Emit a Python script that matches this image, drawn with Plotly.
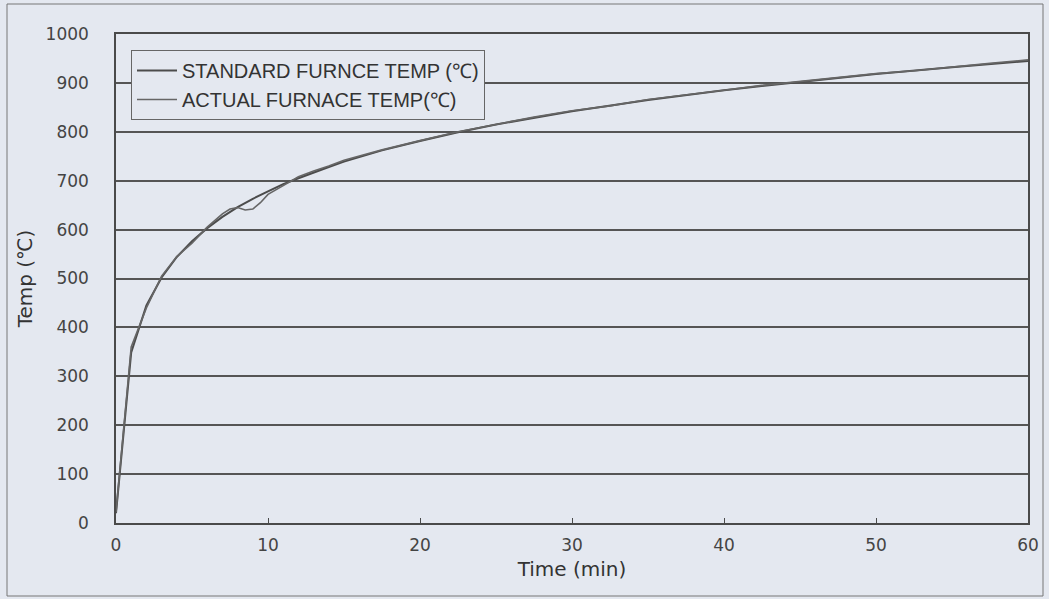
import plotly.graph_objects as go

# Standard furnace temperature (ISO-834-like curve)
std_time = [0, 1, 2, 3, 4, 5, 6, 7, 8, 9, 10, 11, 12, 13, 14, 15,
            17.5, 20, 22.5, 25, 27.5, 30, 35, 40, 45, 50, 55, 60]
std_temp = [20, 349, 445, 502, 544, 576, 603, 626, 646, 663, 678, 693, 705, 717, 728, 739,
            762, 781, 799, 815, 829, 842, 865, 885, 902, 918, 932, 945]

# Actual furnace temperature
act_time = [0, 1, 2, 3, 4, 5, 6, 7, 7.5, 8, 8.5, 9, 9.5, 10, 11, 12, 13, 14, 15,
            17.5, 20, 22.5, 25, 27.5, 30, 32.5, 35, 37.5, 40, 42.5, 45, 47.5,
            50, 52.5, 55, 57.5, 60]
act_temp = [22, 360, 440, 505, 545, 572, 605, 632, 642, 645, 640, 642, 655, 672, 690, 708, 720, 730, 742,
            763, 782, 800, 815, 830, 843, 853, 866, 875, 885, 895, 903, 910,
            919, 925, 933, 940, 947]

series_names = ["STANDARD FURNCE TEMP (℃)", "ACTUAL FURNACE TEMP(℃)"]
y_ticks = [0, 100, 200, 300, 400, 500, 600, 700, 800, 900, 1000]
x_ticks = [0, 10, 20, 30, 40, 50, 60]

BG = "#e4e8f0"
INK = "#4a4a4a"
FONT = "DejaVu Sans"

L, R, T, B = 116, 21, 34, 76
W, H = 1049, 599
PW, PH = W - L - R, H - T - B

def px2paper_x(px):
    return (px - L) / PW

def py2paper_y(py):
    return (H - B - py) / PH

fig = go.Figure()
fig.add_trace(go.Scatter(x=std_time, y=std_temp, mode="lines", name=series_names[0],
                         line=dict(color="#4c4c4c", width=2)))
fig.add_trace(go.Scatter(x=act_time, y=act_temp, mode="lines", name=series_names[1],
                         line=dict(color="#666666", width=1.6)))

fig.update_layout(
    width=W, height=H,
    margin=dict(l=L, r=R, t=T, b=B, autoexpand=False),
    paper_bgcolor=BG, plot_bgcolor=BG,
    font=dict(family=FONT, color="#333333", size=17),
    legend=dict(x=px2paper_x(131), y=py2paper_y(50), xanchor="left", yanchor="top",
                bgcolor=BG, bordercolor="#666666", borderwidth=1,
                font=dict(size=20, color="#333333",
                          family="Liberation Sans, sans-serif"),
                tracegroupgap=0, itemwidth=40),
    xaxis=dict(range=[0, 60], tickvals=x_ticks, showgrid=False, zeroline=False,
               showline=True, linecolor=INK, linewidth=1.5, mirror=True,
               ticks="inside", ticklen=5, tickcolor=INK,
               ticklabelstandoff=6,
               title=dict(text="Time (min)", font=dict(size=20), standoff=8),
               tickfont=dict(size=17, color="#444444")),
    yaxis=dict(range=[0, 1000], tickvals=y_ticks, showgrid=True, gridcolor="#555555",
               gridwidth=1.5, zeroline=False, showline=True, linecolor=INK,
               linewidth=1.5, mirror=True, ticks="",
               ticklabelstandoff=22,
               title=dict(text="Temp (℃)", font=dict(size=20), standoff=8),
               tickfont=dict(size=17, color="#444444")),
    shapes=[dict(type="rect", xref="paper", yref="paper",
                 x0=px2paper_x(7), x1=px2paper_x(1043),
                 y0=py2paper_y(596), y1=py2paper_y(4),
                 line=dict(color="#777777", width=1), layer="below")],
    showlegend=True,
)

fig.write_html("out.html", config={"displayModeBar": False},
               post_script="document.body.style.margin='0';document.body.style.overflow='hidden';")
